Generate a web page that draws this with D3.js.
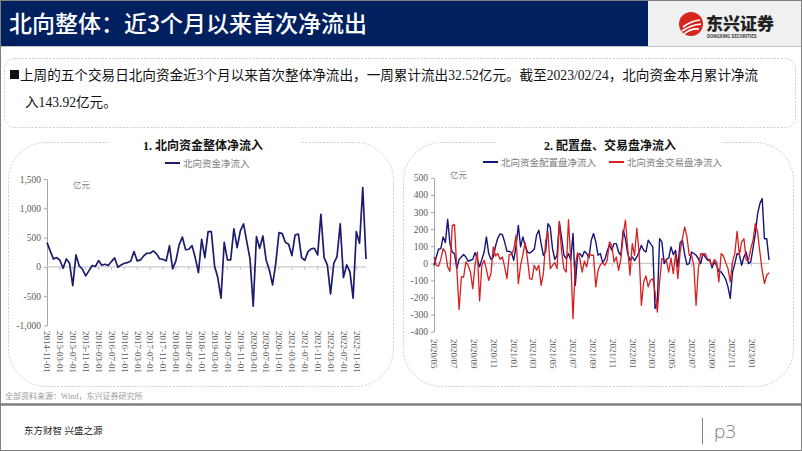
<!DOCTYPE html>
<html>
<head>
<meta charset="utf-8">
<script src="https://cdn.jsdelivr.net/npm/d3@7"></script>
<style>
  body { margin: 0; background: #fff; }
  svg { display: block; }
</style>
</head>
<body>
<svg id="slide" width="802" height="451"></svg>
<script>
// ---------- data ----------
const headline = '北向整体：近3个月以来首次净流出';
const summaryLine1 = '上周的五个交易日北向资金近3个月以来首次整体净流出，一周累计流出32.52亿元。截至2023/02/24，北向资金本月累计净流';
const summaryLine2 = '入143.92亿元。';

// chart 1: monthly northbound net inflow, 2014-11 .. 2023-02 (亿元)
const totalFlow = [415, 273, 136, 159, 114, -23, 136, 62, -318, 205,
  17, -40, -153, -68, 23, 6, 108, 28, 45, 23,
  91, 153, -6, 34, 62, 74, 102, 261, 102, 119,
  187, 233, 233, 273, 222, 136, 131, 102, 358, -34,
  102, 375, 511, 295, 301, 364, 159, -97, 471, 159,
  602, 602, 17, -182, -534, 420, 119, 119, 648, 330,
  613, 733, 432, 136, -670, 517, 318, 528, 119, -51,
  -307, 62, 585, 568, 415, 386, 193, 545, 562, 159,
  114, 261, 307, 318, 205, 897, 159, 34, -460, 62,
  176, 733, -182, 34, -80, -534, 602, 403, 1352, 136];
const totalXTicks = ['2014-11-01', '2015-03-01', '2015-07-01', '2015-11-01', '2016-03-01',
  '2016-07-01', '2016-11-01', '2017-03-01', '2017-07-01', '2017-11-01', '2018-03-01',
  '2018-07-01', '2018-11-01', '2019-03-01', '2019-07-01', '2019-11-01', '2020-03-01',
  '2020-07-01', '2020-11-01', '2021-03-01', '2021-07-01', '2021-11-01', '2022-03-01',
  '2022-07-01', '2022-11-01'];
const totalYTicks = [-1000, -500, 0, 500, 1000, 1500];
const totalYLabels = ['-1,000', '-500', '0', '500', '1,000', '1,500'];

// chart 2: weekly allocation / trading net inflow, 2020-05-01 .. 2023-02-24 (亿元)
const allocFlow = [-12, 37, 82, 86, 154, 121, 257, 115, 66, 57,
  -31, 23, 37, 51, 37, 12, 18, 23, 62, 27,
  -21, 23, 66, 154, 57, 23, 35, 101, 148, 172,
  168, 125, 70, 70, 62, 18, 101, 222, 96, 154,
  105, 66, 60, 70, 82, 164, 193, 115, 47, 70,
  232, 212, 86, 23, 47, 240, 150, 47, 27, 57,
  18, 175, -128, 47, 57, 37, 70, 57, 31, 135,
  174, 125, 47, 57, 4, 23, 70, 109, 76, 115,
  115, 66, 47, 193, 144, 57, 18, 37, 16, 37,
  66, 105, 76, 66, 135, 115, 96, -265, -226, 144,
  125, -2, 23, 31, 96, 51, 76, -21, 121, 135,
  51, -8, -2, 66, 57, 47, 27, -2, 57, 37,
  18, 23, -27, 8, -12, -47, -51, -70, -94, -138,
  -205, -51, -2, 57, 51, -12, 37, 66, -2, 8,
  90, 174, 290, 349, 378, 144, 144, 20];
const tradeFlow = [37, -12, -16, 23, 86, 66, -21, -47, 222, 226,
  -31, -270, -80, -80, 8, -12, -51, -148, -12, 66,
  -220, -12, 18, -35, -100, -60, 96, 43, 57, 23,
  37, -21, -90, 51, 51, 82, 164, -119, -12, 51,
  121, 27, -90, -94, -12, -41, -12, -129, -60, 130,
  185, -31, -12, 4, -31, 245, 66, -31, -51, 255,
  27, -324, -12, 62, 27, -51, 12, -21, 57, 47,
  47, -138, -41, -8, 4, -12, 18, 125, 105, 8,
  37, -41, 27, 164, 252, 86, -70, 115, 47, 205,
  60, -246, -109, -74, -138, -99, -90, -168, -285, -109,
  27, 23, 12, -51, 31, -60, 57, -90, 66, 144,
  213, 154, 47, 47, -12, -246, -31, 57, 47, 57,
  27, 12, -12, 23, 8, -109, 57, 43, 4, -31,
  -109, 8, 57, 187, 47, 125, 144, 18, 18, 86,
  135, 232, 183, 66, -41, -119, -70, -55];
const splitXTicks = ['2020/05', '2020/07', '2020/09', '2020/11', '2021/01', '2021/03',
  '2021/05', '2021/07', '2021/09', '2021/11', '2022/01', '2022/03', '2022/05',
  '2022/07', '2022/09', '2022/11', '2023/01'];
const splitYTicks = [-400, -300, -200, -100, 0, 100, 200, 300, 400, 500];

// ---------- page ----------
const serif = "'Liberation Serif', 'Noto Sans CJK SC', serif";
const cjk = "'Noto Sans CJK SC', sans-serif";
const svg = d3.select('#slide');

// header bar + logo block
svg.append('rect').attr('x', 0).attr('y', 0).attr('width', 648).attr('height', 46).attr('fill', '#00205f');
svg.append('rect').attr('x', 648).attr('y', 0).attr('width', 154).attr('height', 46).attr('fill', '#f0f0f0');
svg.append('line').attr('x1', 0).attr('x2', 802).attr('y1', 46.5).attr('y2', 46.5).attr('stroke', '#bfbfbf');
svg.append('text').attr('x', 9).attr('y', 32)
  .attr('font-family', cjk).attr('font-size', 23).attr('font-weight', 500)
  .attr('fill', '#fff').text(headline);

const logo = svg.append('g');
logo.append('circle').attr('cx', 691).attr('cy', 24).attr('r', 12).attr('fill', '#d7261e');
[[-8, 3, 9, -4], [-9, 7, 10, 0], [-7, 10, 8, 5]].forEach(d => {
  logo.append('path')
    .attr('d', `M${691 + d[0]},${24 + d[1]} Q691,${24 + d[1] - 6} ${691 + d[2]},${24 + d[3]}`)
    .attr('stroke', '#fff').attr('stroke-width', 1.6).attr('fill', 'none');
});
logo.append('text').attr('x', 706).attr('y', 30).attr('font-family', cjk)
  .attr('font-size', 17).attr('font-weight', 900).attr('fill', '#222').text('东兴证券');
logo.append('text').attr('x', 707).attr('y', 38).attr('font-family', 'Roboto, sans-serif')
  .attr('font-size', 4.6).attr('font-weight', 700).attr('fill', '#444').text('DONGXING SECURITIES');

// summary box
const dash = '2,1.5';
svg.append('rect').attr('x', 4.5).attr('y', 58.5).attr('width', 791).attr('height', 69).attr('rx', 10)
  .attr('fill', 'none').attr('stroke', '#cfcfcf').attr('stroke-dasharray', dash);
svg.append('rect').attr('x', 10).attr('y', 70).attr('width', 9).attr('height', 9).attr('fill', '#111');
svg.append('text').attr('x', 20).attr('y', 80).attr('font-family', serif).attr('font-size', 13.6)
  .attr('fill', '#111').text(summaryLine1);
svg.append('text').attr('x', 25).attr('y', 107).attr('font-family', serif).attr('font-size', 13.6)
  .attr('fill', '#111').text(summaryLine2);

// panels
function panel(x0, x1, title, tx, gap) {
  svg.append('rect').attr('x', x0 + 0.5).attr('y', 142.5).attr('width', x1 - x0).attr('height', 244).attr('rx', 38)
    .attr('fill', 'none').attr('stroke', '#cfcfcf').attr('stroke-dasharray', dash);
  svg.append('rect').attr('x', gap[0]).attr('y', 138).attr('width', gap[1] - gap[0]).attr('height', 10).attr('fill', '#fff');
  svg.append('text').attr('x', tx).attr('y', 150).attr('text-anchor', 'middle')
    .attr('font-family', serif).attr('font-size', 12).attr('font-weight', 700).attr('fill', '#111').text(title);
}
panel(8, 393, '1. 北向资金整体净流入', 203, [108, 300]);
panel(403, 793, '2. 配置盘、交易盘净流入', 610, [497, 722]);

function legendItem(x, y, color, label) {
  svg.append('line').attr('x1', x).attr('x2', x + 15).attr('y1', y).attr('y2', y)
    .attr('stroke', color).attr('stroke-width', 2);
  svg.append('text').attr('x', x + 18).attr('y', y + 3.5).attr('font-family', serif)
    .attr('font-size', 9.5).attr('fill', '#808080').text(label);
}

function yAxis(scale, xPos, ticks, labels) {
  const g = svg.append('g').attr('transform', `translate(${xPos},0)`)
    .call(d3.axisLeft(scale).tickValues(ticks).tickSize(3).tickSizeOuter(0)
      .tickFormat((d, i) => labels ? labels[i] : String(d)));
  g.select('.domain').attr('stroke', '#a6a6a6');
  g.selectAll('.tick line').attr('stroke', '#a6a6a6');
  g.selectAll('.tick text').attr('font-family', serif).attr('font-size', 9.5).attr('fill', '#595959').attr('x', -6);
}

function xLabels(scale, ticks, yTop, fmt) {
  const g = svg.append('g').attr('transform', `translate(0,${yTop})`)
    .call(d3.axisBottom(scale).tickValues(ticks).tickSize(0).tickFormat(fmt));
  g.select('.domain').remove();
  g.selectAll('.tick text')
    .attr('font-family', serif).attr('font-size', 9).attr('fill', '#595959')
    .attr('text-anchor', 'start').attr('transform', 'rotate(90)')
    .attr('x', 0).attr('y', 0).attr('dy', '0.35em');
}

function zeroAxis(scale, ticks, y, x0, x1) {
  svg.append('line').attr('x1', x0).attr('x2', x1).attr('y1', y).attr('y2', y).attr('stroke', '#bfbfbf');
  svg.append('g').selectAll('line').data(ticks).join('line')
    .attr('x1', d => scale(d)).attr('x2', d => scale(d)).attr('y1', y).attr('y2', y + 3)
    .attr('stroke', '#bfbfbf');
}

// ---------- chart 1 ----------
const fmtDay = d3.timeFormat('%Y-%m-%d');
const months = d3.timeMonth.range(new Date(2014, 10, 1), new Date(2023, 2, 1)).map(fmtDay);
const x1 = d3.scalePoint().domain(months).range([47, 366]);
const y1 = d3.scaleLinear().domain([-1000, 1500]).range([325.5, 179]);

yAxis(y1, 47, totalYTicks, totalYLabels);
zeroAxis(x1, totalXTicks, y1(0), 47, 366);
xLabels(x1, totalXTicks, 331, d => d);
svg.append('text').attr('x', 73).attr('y', 188).attr('font-family', serif)
  .attr('font-size', 8.5).attr('fill', '#808080').text('亿元');
legendItem(165, 163, '#1c1c6e', '北向资金净流入');

svg.append('path').datum(totalFlow)
  .attr('fill', 'none').attr('stroke', '#1c1c6e').attr('stroke-width', 1.7).attr('stroke-linejoin', 'round')
  .attr('d', d3.line().x((d, i) => x1(months[i])).y(d => y1(d)));

// ---------- chart 2 ----------
const weeks = d3.timeFriday.range(new Date(2020, 4, 1), new Date(2023, 1, 25));
const x2 = d3.scaleTime().domain([weeks[0], weeks[weeks.length - 1]]).range([434, 769]);
const y2 = d3.scaleLinear().domain([-400, 500]).range([331.7, 177.8]);
const parseMonth = d3.timeParse('%Y/%m');
const splitTickDates = splitXTicks.map(parseMonth);

yAxis(y2, 434, splitYTicks, null);
zeroAxis(x2, splitTickDates, y2(0), 434, 769);
xLabels(x2, splitTickDates, 339, d3.timeFormat('%Y/%m'));
svg.append('text').attr('x', 450).attr('y', 178).attr('font-family', serif)
  .attr('font-size', 8.5).attr('fill', '#808080').text('亿元');
legendItem(483, 162, '#14147a', '北向资金配置盘净流入');
legendItem(609, 162, '#d81e1e', '北向资金交易盘净流入');

const line2 = d3.line().x((d, i) => x2(weeks[i])).y(d => y2(d));
svg.append('path').datum(allocFlow)
  .attr('fill', 'none').attr('stroke', '#14147a').attr('stroke-width', 1.4).attr('stroke-linejoin', 'round')
  .attr('d', line2);
svg.append('path').datum(tradeFlow)
  .attr('fill', 'none').attr('stroke', '#d81e1e').attr('stroke-width', 1.3).attr('stroke-linejoin', 'round')
  .attr('d', line2);

// ---------- footer ----------
svg.append('text').attr('x', 5).attr('y', 399).attr('font-family', serif)
  .attr('font-size', 8).attr('fill', '#9a9a9a').text('全部资料来源：Wind，东兴证券研究所');
svg.append('line').attr('x1', 0).attr('x2', 802).attr('y1', 404.5).attr('y2', 404.5)
  .attr('stroke', '#7f7f7f').attr('stroke-width', 2.5);
svg.append('text').attr('x', 24).attr('y', 434).attr('font-family', serif)
  .attr('font-size', 9.5).attr('fill', '#222').text('东方财智 兴盛之源');
svg.append('line').attr('x1', 702.5).attr('x2', 702.5).attr('y1', 418).attr('y2', 444)
  .attr('stroke', '#7f7f7f').attr('stroke-width', 1);
svg.append('text').attr('x', 714).attr('y', 438).attr('font-family', "'Open Sans', sans-serif")
  .attr('font-size', 19).attr('font-weight', 300).attr('fill', '#7f7f7f').text('p3');

// slide frame
svg.append('rect').attr('x', 0.5).attr('y', 0.5).attr('width', 801).attr('height', 450)
  .attr('fill', 'none').attr('stroke', '#7f7f7f');
</script>
</body>
</html>
